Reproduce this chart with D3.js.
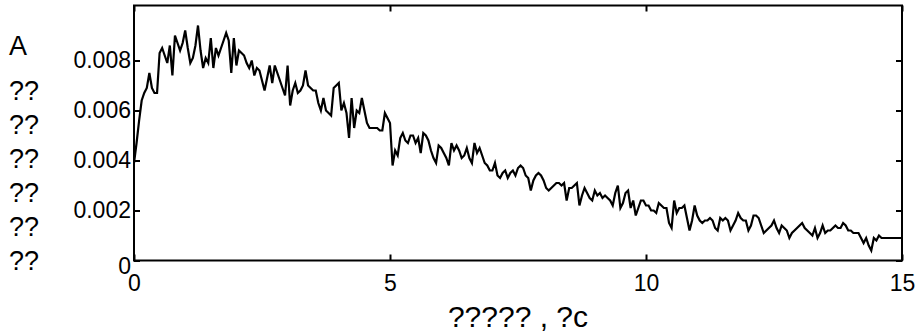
<!DOCTYPE html>
<html>
<head>
<meta charset="utf-8">
<script src="https://cdn.jsdelivr.net/npm/d3@7/dist/d3.min.js"></script>
<style>
  html, body { margin: 0; padding: 0; background: #fff; }
  svg { display: block; }
  text { font-family: "Liberation Sans", Arial, Helvetica, sans-serif; fill: #000; }
</style>
</head>
<body>
<svg id="chart" width="924" height="336"></svg>
<script>
// Histogram bins: start and width along the x axis
const binStart = 0;
const binStep = 0.05;

// Density per bin
const density = [
  0.0039, 0.0047, 0.0056, 0.0064, 0.0067, 0.0069, 0.0075, 0.0069, 0.0067, 0.0067,
  0.0083, 0.0085, 0.0082, 0.0079, 0.0086, 0.0074, 0.0090, 0.0087, 0.0084, 0.0087,
  0.0092, 0.0085, 0.0079, 0.0081, 0.0086, 0.0094, 0.0084, 0.0077, 0.0081, 0.0079,
  0.0089, 0.0077, 0.0085, 0.0082, 0.0085, 0.0088, 0.0091, 0.0088, 0.0075, 0.0089,
  0.0078, 0.0084, 0.0083, 0.0082, 0.0079, 0.0077, 0.0080, 0.0074, 0.0077, 0.0076,
  0.0072, 0.0068, 0.0073, 0.0078, 0.0071, 0.0078, 0.0075, 0.0072, 0.0069, 0.0066,
  0.0078, 0.0062, 0.0068, 0.0071, 0.0067, 0.0068, 0.0070, 0.0076, 0.0070, 0.0069,
  0.0068, 0.0068, 0.0063, 0.0060, 0.0065, 0.0060, 0.0059, 0.0058, 0.0069, 0.0070,
  0.0071, 0.0060, 0.0063, 0.0059, 0.0049, 0.0065, 0.0053, 0.0060, 0.0059, 0.0065,
  0.0060, 0.0055, 0.0053, 0.0053, 0.0053, 0.0053, 0.0052, 0.0052, 0.0059, 0.0057,
  0.0055, 0.0038, 0.0044, 0.0042, 0.0049, 0.0051, 0.0048, 0.0047, 0.0050, 0.0050,
  0.0047, 0.0049, 0.0043, 0.0051, 0.0050, 0.0048, 0.0044, 0.0041, 0.0039, 0.0046,
  0.0045, 0.0043, 0.0041, 0.0038, 0.0047, 0.0044, 0.0046, 0.0044, 0.0041, 0.0042,
  0.0045, 0.0041, 0.0039, 0.0047, 0.0043, 0.0045, 0.0042, 0.0039, 0.0038, 0.0036,
  0.0036, 0.0039, 0.0034, 0.0033, 0.0035, 0.0036, 0.0033, 0.0035, 0.0036, 0.0034,
  0.0037, 0.0038, 0.0037, 0.0034, 0.0033, 0.0028, 0.0032, 0.0034, 0.0035, 0.0034,
  0.0032, 0.0029, 0.0028, 0.0029, 0.0030, 0.0031, 0.0031, 0.0030, 0.0031, 0.0024,
  0.0029, 0.0029, 0.0030, 0.0031, 0.0022, 0.0026, 0.0029, 0.0027, 0.0025, 0.0024,
  0.0028, 0.0026, 0.0027, 0.0025, 0.0026, 0.0025, 0.0024, 0.0022, 0.0027, 0.0030,
  0.0021, 0.0023, 0.0027, 0.0028, 0.0021, 0.0024, 0.0018, 0.0021, 0.0024, 0.0024,
  0.0022, 0.0022, 0.0020, 0.0020, 0.0019, 0.0023, 0.0022, 0.0021, 0.0021, 0.0015,
  0.0013, 0.0024, 0.0019, 0.0021, 0.0021, 0.0022, 0.0017, 0.0012, 0.0016, 0.0022,
  0.0018, 0.0016, 0.0015, 0.0016, 0.0016, 0.0017, 0.0016, 0.0013, 0.0012, 0.0017,
  0.0016, 0.0017, 0.0016, 0.0012, 0.0014, 0.0016, 0.0019, 0.0017, 0.0016, 0.0016,
  0.0012, 0.0014, 0.0018, 0.0018, 0.0017, 0.0014, 0.0011, 0.0012, 0.0013, 0.0014,
  0.0016, 0.0013, 0.0011, 0.0014, 0.0013, 0.0012, 0.0009, 0.0011, 0.0012, 0.0013,
  0.0014, 0.0015, 0.0013, 0.0012, 0.0011, 0.0010, 0.0013, 0.0009, 0.0011, 0.0014,
  0.0011, 0.0012, 0.0012, 0.0013, 0.0014, 0.0013, 0.0013, 0.0015, 0.0014, 0.0012,
  0.0012, 0.0011, 0.0011, 0.0011, 0.0009, 0.0007, 0.0009, 0.0006, 0.0004, 0.0009,
  0.0008, 0.0010, 0.0009, 0.0009, 0.0009, 0.0009, 0.0009, 0.0009, 0.0009, 0.0009,
  0.0009
];

const xTicks = [0, 5, 10, 15];
const yTicks = [0, 0.002, 0.004, 0.006, 0.008];
const xDomain = [0, 15];
const yDomain = [0, 0.0102];

const yLabelLines = ["A", "??", "??", "??", "??", "??", "??"];
const xLabel = "????? , ?c";

const svg = d3.select("#chart");
const plot = { left: 134, right: 902, top: 5.5, bottom: 260.5 };

const x = d3.scaleLinear().domain(xDomain).range([plot.left, plot.right]);
const y = d3.scaleLinear().domain(yDomain).range([plot.bottom, plot.top]);

const tickFmt = d => d === 0 ? "0" : d3.format(".3f")(d);
const tickFont = 23;

function styleAxis(g, fontSize) {
  g.select(".domain").remove();
  g.selectAll("line").attr("stroke", "#000").attr("stroke-width", 2);
  g.selectAll("text")
    .attr("font-size", fontSize)
    .attr("fill", "#000")
    .style("font-family", "'Liberation Sans', Arial, sans-serif");
}

// Bottom axis with inward ticks
svg.append("g")
  .attr("transform", `translate(0,${plot.bottom})`)
  .call(d3.axisBottom(x).tickValues(xTicks).tickSize(-6).tickPadding(14).tickFormat(d3.format("d")))
  .call(g => styleAxis(g, tickFont));

// Top axis (ticks only)
svg.append("g")
  .attr("transform", `translate(0,${plot.top})`)
  .call(d3.axisTop(x).tickValues(xTicks).tickSize(-6).tickFormat(""))
  .call(g => styleAxis(g, tickFont));

// Left axis with inward ticks
svg.append("g")
  .attr("transform", `translate(${plot.left},0)`)
  .call(d3.axisLeft(y).tickValues(yTicks).tickSize(-6).tickPadding(3).tickFormat(tickFmt))
  .call(g => styleAxis(g, tickFont))
  .call(g => g.selectAll(".tick").filter(d => d === 0).select("text").attr("dy", "0.55em"));

// Right axis (ticks only)
svg.append("g")
  .attr("transform", `translate(${plot.right},0)`)
  .call(d3.axisRight(y).tickValues(yTicks).tickSize(-6).tickFormat(""))
  .call(g => styleAxis(g, tickFont));

// Frame around the plot area
svg.append("rect")
  .attr("x", plot.left)
  .attr("y", plot.top)
  .attr("width", plot.right - plot.left)
  .attr("height", plot.bottom - plot.top)
  .attr("fill", "none")
  .attr("stroke", "#000")
  .attr("stroke-width", 2);

// Density curve
const line = d3.line()
  .x((d, i) => x(binStart + i * binStep))
  .y(d => y(d));

svg.append("path")
  .datum(density)
  .attr("d", line)
  .attr("fill", "none")
  .attr("stroke", "#000")
  .attr("stroke-width", 2.2)
  .attr("stroke-linejoin", "miter")
  .attr("stroke-miterlimit", 4);

// Y label, one glyph group per row
const yLabelBaselines = [55, 100, 134, 168, 202, 236, 270];
svg.append("g")
  .selectAll("text")
  .data(yLabelLines)
  .join("text")
  .attr("x", 9)
  .attr("y", (d, i) => yLabelBaselines[i])
  .attr("font-size", 27)
  .text(d => d);

// X label
svg.append("text")
  .attr("x", (plot.left + plot.right) / 2)
  .attr("y", 327)
  .attr("text-anchor", "middle")
  .attr("font-size", 30)
  .text(xLabel);
</script>
</body>
</html>
